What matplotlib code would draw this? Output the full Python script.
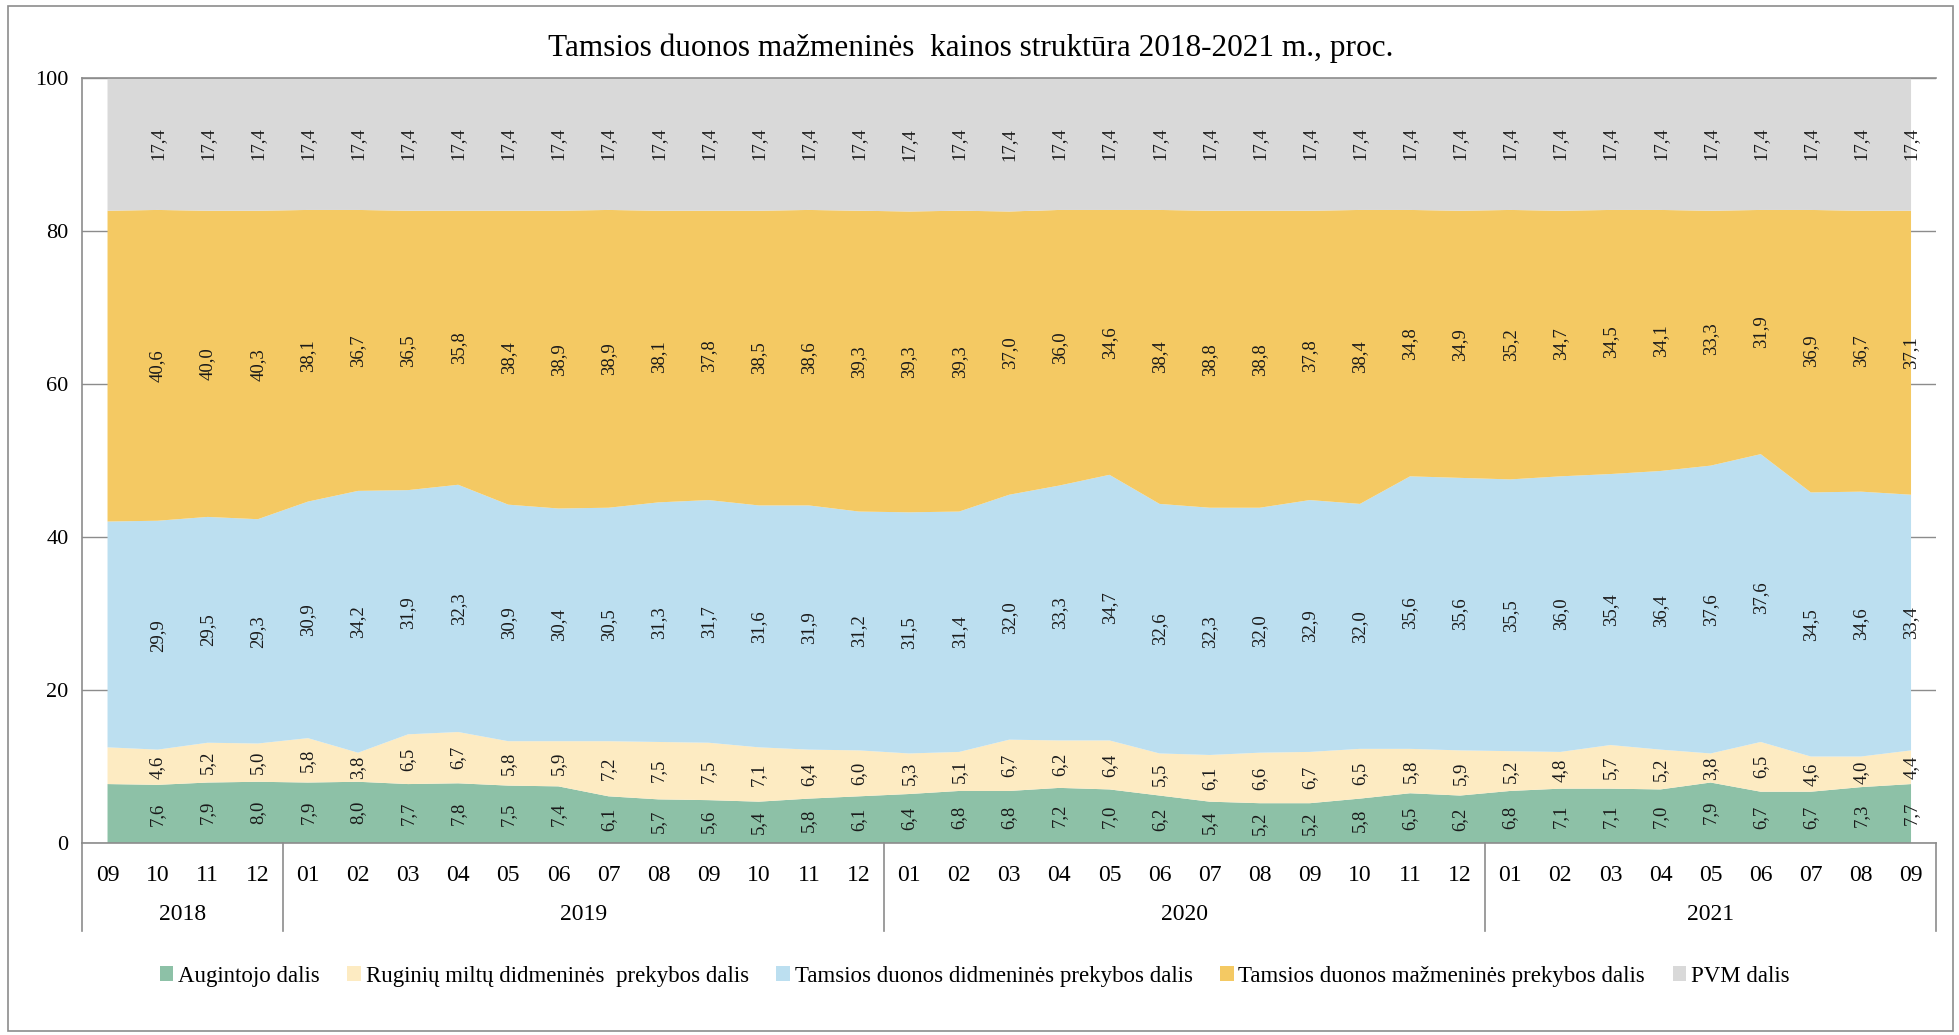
import matplotlib
matplotlib.use("Agg")
import matplotlib.pyplot as plt
import matplotlib.patches as patches
import numpy as np

plt.rcParams['font.family'] = ['Liberation Serif', 'DejaVu Serif']

# months 2018-09 .. 2021-09
months = ['09', '10', '11', '12',
          '01', '02', '03', '04', '05', '06', '07', '08', '09', '10', '11', '12',
          '01', '02', '03', '04', '05', '06', '07', '08', '09', '10', '11', '12',
          '01', '02', '03', '04', '05', '06', '07', '08', '09']
years = ['2018', '2019', '2020', '2021']
months_per_year = [4, 12, 12, 9]

augintojo = [7.7, 7.6, 7.9, 8.0,
             7.9, 8.0, 7.7, 7.8, 7.5, 7.4, 6.1, 5.7, 5.6, 5.4, 5.8, 6.1,
             6.4, 6.8, 6.8, 7.2, 7.0, 6.2, 5.4, 5.2, 5.2, 5.8, 6.5, 6.2,
             6.8, 7.1, 7.1, 7.0, 7.9, 6.7, 6.7, 7.3, 7.7]
ruginiu = [4.8, 4.6, 5.2, 5.0,
           5.8, 3.8, 6.5, 6.7, 5.8, 5.9, 7.2, 7.5, 7.5, 7.1, 6.4, 6.0,
           5.3, 5.1, 6.7, 6.2, 6.4, 5.5, 6.1, 6.6, 6.7, 6.5, 5.8, 5.9,
           5.2, 4.8, 5.7, 5.2, 3.8, 6.5, 4.6, 4.0, 4.4]
didmenines = [29.5, 29.9, 29.5, 29.3,
              30.9, 34.2, 31.9, 32.3, 30.9, 30.4, 30.5, 31.3, 31.7, 31.6, 31.9, 31.2,
              31.5, 31.4, 32.0, 33.3, 34.7, 32.6, 32.3, 32.0, 32.9, 32.0, 35.6, 35.6,
              35.5, 36.0, 35.4, 36.4, 37.6, 37.6, 34.5, 34.6, 33.4]
mazmenines = [40.6, 40.6, 40.0, 40.3,
              38.1, 36.7, 36.5, 35.8, 38.4, 38.9, 38.9, 38.1, 37.8, 38.5, 38.6, 39.3,
              39.3, 39.3, 37.0, 36.0, 34.6, 38.4, 38.8, 38.8, 37.8, 38.4, 34.8, 34.9,
              35.2, 34.7, 34.5, 34.1, 33.3, 31.9, 36.9, 36.7, 37.1]
pvm = [17.4] * 37
# the first month carries no value labels in the source chart
first_labelled = 1

series_names = ['Augintojo dalis', 'Ruginių miltų didmeninės  prekybos dalis',
                'Tamsios duonos didmeninės prekybos dalis',
                'Tamsios duonos mažmeninės prekybos dalis', 'PVM dalis']
colors = ['#8dc1a7', '#fdebc2', '#bcdff0', '#f4c963', '#d9d9d9']

fig = plt.figure(figsize=(19.59, 10.35), dpi=100)
ax = fig.add_axes([0.0421, 0.1855, 0.9462, 0.7396])

x = np.arange(len(months))
data = [augintojo, ruginiu, didmenines, mazmenines, pvm]
ax.stackplot(x, *data, colors=colors, labels=series_names, linewidth=0)

ax.set_xlim(-0.5, len(months) - 0.5)
ax.set_ylim(0, 100)
ax.set_yticks([0, 20, 40, 60, 80, 100])
ax.tick_params(axis='y', length=0, labelsize=16, pad=10)
ax.set_axisbelow(True)
ax.yaxis.grid(True, color='#8c8c8c', linewidth=1)

for side in ['left', 'top', 'bottom']:
    ax.spines[side].set_color('#8c8c8c')
    ax.spines[side].set_linewidth(1.2)
ax.spines['right'].set_visible(False)

# value labels
bottom = np.zeros(len(months))
for vals in data:
    vals = np.array(vals)
    mids = bottom + vals / 2
    for i in range(first_labelled, len(months)):
        ax.text(x[i], mids[i], f"{vals[i]:.1f}".replace('.', ','), rotation=90,
                ha='center', va='center', fontsize=13.5, color='#1a1a1a')
    bottom = bottom + vals

# two-level category axis
ax.set_xticks(x)
ax.set_xticklabels(months, fontsize=17)
ax.tick_params(axis='x', length=0, pad=16)

trans = ax.get_xaxis_transform()
edges = np.concatenate([[0], np.cumsum(months_per_year)]) - 0.5
for e in edges:
    ax.plot([e, e], [0, -0.115], transform=trans, color='#8c8c8c',
            linewidth=1.2, clip_on=False)
for k, yr in enumerate(years):
    centre = (edges[k] + edges[k + 1]) / 2
    ax.text(centre, -0.093, yr, transform=trans, ha='center', va='center',
            fontsize=17)

fig.text(0.4955, 0.953, 'Tamsios duonos mažmeninės  kainos struktūra 2018-2021 m., proc.',
         ha='center', va='center', fontsize=22.5)

fig.legend(loc='center', bbox_to_anchor=(0.4975, 0.057), ncol=5, frameon=False,
           fontsize=16.5, handlelength=0.6, handleheight=0.6, handletextpad=0.2,
           columnspacing=1.2)

fig.patches.append(patches.Rectangle((0.004, 0.004), 0.993, 0.99,
                                     transform=fig.transFigure, fill=False,
                                     edgecolor='#8c8c8c', linewidth=1.2))

fig.savefig('out.png', dpi=100, facecolor='white')
